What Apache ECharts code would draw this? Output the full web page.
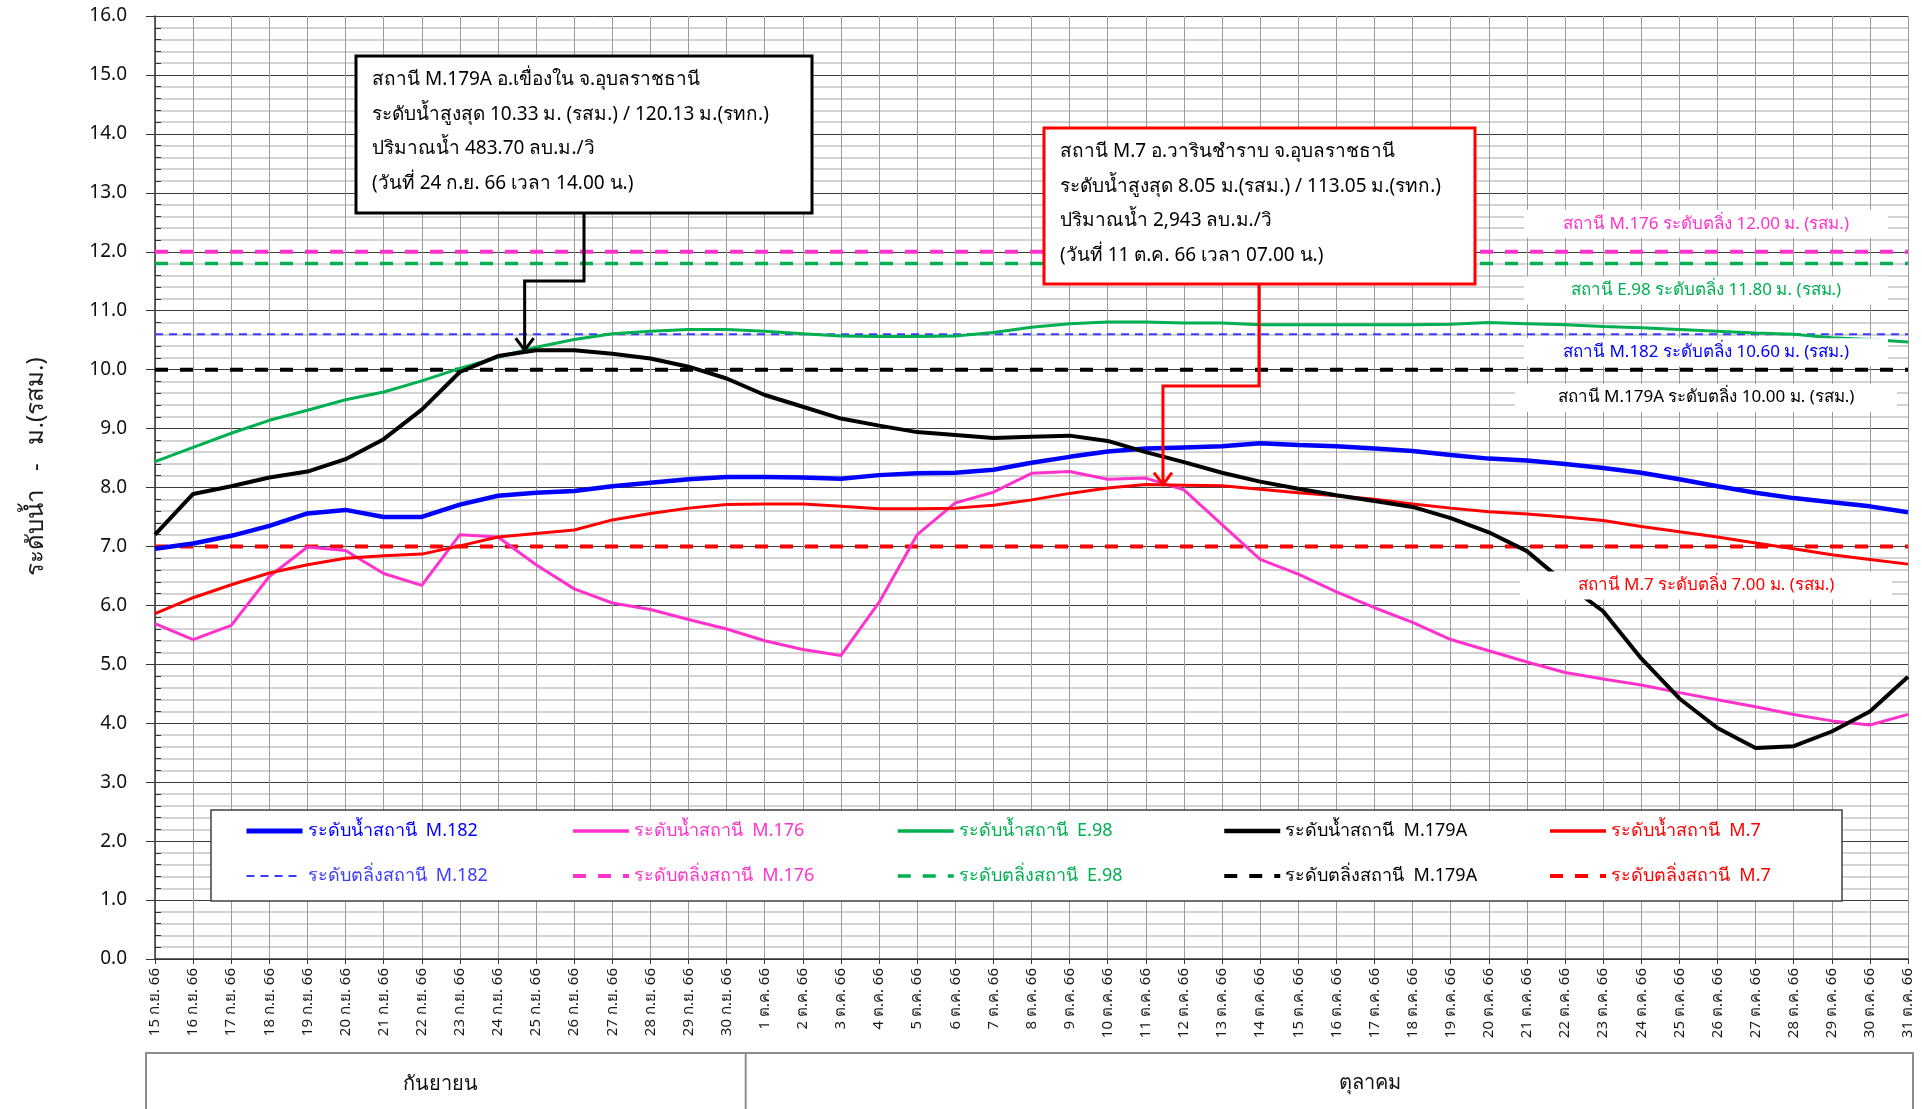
<!DOCTYPE html>
<html>
<head>
<meta charset="utf-8">
<title>ระดับน้ำแม่น้ำมูล</title>
<script src="https://cdn.jsdelivr.net/npm/echarts@6.0.0/dist/echarts.min.js"></script>
<style>
  html, body { margin: 0; padding: 0; background: #ffffff; }
  #chart { width: 1922px; height: 1109px; }
</style>
</head>
<body>
<div id="chart"></div>
<script>
// Daily categories, 15 Sep 2023 (2566) to 31 Oct 2023
const dateLabels = [
  '15 ก.ย. 66', '16 ก.ย. 66', '17 ก.ย. 66', '18 ก.ย. 66', '19 ก.ย. 66', '20 ก.ย. 66',
  '21 ก.ย. 66', '22 ก.ย. 66', '23 ก.ย. 66', '24 ก.ย. 66', '25 ก.ย. 66', '26 ก.ย. 66',
  '27 ก.ย. 66', '28 ก.ย. 66', '29 ก.ย. 66', '30 ก.ย. 66',
  '1 ต.ค. 66', '2 ต.ค. 66', '3 ต.ค. 66', '4 ต.ค. 66', '5 ต.ค. 66', '6 ต.ค. 66',
  '7 ต.ค. 66', '8 ต.ค. 66', '9 ต.ค. 66', '10 ต.ค. 66', '11 ต.ค. 66', '12 ต.ค. 66',
  '13 ต.ค. 66', '14 ต.ค. 66', '15 ต.ค. 66', '16 ต.ค. 66', '17 ต.ค. 66', '18 ต.ค. 66',
  '19 ต.ค. 66', '20 ต.ค. 66', '21 ต.ค. 66', '22 ต.ค. 66', '23 ต.ค. 66', '24 ต.ค. 66',
  '25 ต.ค. 66', '26 ต.ค. 66', '27 ต.ค. 66', '28 ต.ค. 66', '29 ต.ค. 66', '30 ต.ค. 66',
  '31 ต.ค. 66'
];

// Water levels, m. (รสม.)
const levelM182 = [
  6.96, 7.05, 7.18, 7.35, 7.56, 7.62, 7.50, 7.50, 7.71, 7.86, 7.91, 7.94, 8.02, 8.08, 8.14, 8.18,
  8.18, 8.17, 8.15, 8.21, 8.24, 8.25, 8.30, 8.42, 8.52, 8.61, 8.66, 8.68, 8.70, 8.75, 8.72,
  8.70, 8.66, 8.62, 8.55, 8.49, 8.46, 8.40, 8.33, 8.25, 8.14, 8.02, 7.91, 7.82, 7.75, 7.68, 7.58
];
const levelM176 = [
  5.69, 5.42, 5.66, 6.49, 6.99, 6.93, 6.54, 6.34, 7.20, 7.16, 6.69, 6.28, 6.04, 5.93, 5.76, 5.60,
  5.40, 5.25, 5.15, 6.05, 7.20, 7.74, 7.92, 8.24, 8.27, 8.14, 8.16, 7.96, 7.37, 6.78, 6.53,
  6.23, 5.96, 5.71, 5.42, 5.23, 5.04, 4.86, 4.75, 4.65, 4.52, 4.40, 4.28, 4.15, 4.04, 3.97, 4.15
];
const levelE98 = [
  8.44, 8.68, 8.92, 9.14, 9.31, 9.49, 9.62, 9.81, 10.02, 10.21, 10.38, 10.51, 10.61, 10.65, 10.68, 10.68,
  10.65, 10.61, 10.57, 10.56, 10.56, 10.57, 10.63, 10.72, 10.78, 10.81, 10.81, 10.79, 10.79, 10.76, 10.76,
  10.76, 10.76, 10.76, 10.77, 10.80, 10.78, 10.76, 10.73, 10.71, 10.68, 10.65, 10.62, 10.60, 10.54, 10.51, 10.47
];
const levelM179A = [
  7.20, 7.89, 8.02, 8.17, 8.27, 8.48, 8.82, 9.32, 9.96, 10.23, 10.33, 10.33, 10.27, 10.19, 10.05, 9.85,
  9.57, 9.37, 9.17, 9.05, 8.94, 8.89, 8.84, 8.86, 8.88, 8.79, 8.60, 8.43, 8.25, 8.10, 7.98,
  7.87, 7.77, 7.67, 7.48, 7.24, 6.92, 6.38, 5.90, 5.10, 4.42, 3.92, 3.58, 3.61, 3.86, 4.20, 4.79
];
const levelM7 = [
  5.86, 6.13, 6.35, 6.55, 6.69, 6.80, 6.84, 6.87, 7.01, 7.16, 7.22, 7.28, 7.45, 7.56, 7.65, 7.71,
  7.72, 7.72, 7.68, 7.64, 7.64, 7.65, 7.70, 7.79, 7.90, 7.99, 8.05, 8.04, 8.03, 7.97, 7.91,
  7.86, 7.80, 7.72, 7.65, 7.59, 7.55, 7.50, 7.44, 7.34, 7.25, 7.16, 7.06, 6.96, 6.86, 6.78, 6.70
];

// Bank-full levels, m. (รสม.)
const bankM182 = 10.60;
const bankM176 = 12.00;
const bankE98 = 11.80;
const bankM179A = 10.00;
const bankM7 = 7.00;

// Peak readings called out in the two boxes
const peakM179A = { index: 9.7, level: 10.33 };
const peakM7 = { index: 26.45, level: 8.05 };

// Y axis ticks
const yMin = 0;
const yMax = 16;
const yStep = 1;

const FONT = 'Tahoma, "Noto Sans", "DejaVu Sans", sans-serif';

const C_BLUE = '#0000ff';
const C_BLUE_BANK = '#3b3bff';
const C_PINK = '#ff33cc';
const C_GREEN = '#00b050';
const C_BLACK = '#000000';
const C_RED = '#ff0000';

const stations = [
  { code: 'M.182',  levels: levelM182,  bank: bankM182,  color: C_BLUE,  bankColor: C_BLUE_BANK, width: 4.5, bankWidth: 1.8, dash: [8, 6],  z: 8 },
  { code: 'M.176',  levels: levelM176,  bank: bankM176,  color: C_PINK,  bankColor: C_PINK,  width: 3,   bankWidth: 4,   dash: [13, 12], z: 5 },
  { code: 'E.98',   levels: levelE98,   bank: bankE98,   color: C_GREEN, bankColor: C_GREEN, width: 3,   bankWidth: 3.5, dash: [13, 12], z: 4 },
  { code: 'M.179A', levels: levelM179A, bank: bankM179A, color: C_BLACK, bankColor: C_BLACK, width: 4,   bankWidth: 4,   dash: [13, 12], z: 9 },
  { code: 'M.7',    levels: levelM7,    bank: bankM7,    color: C_RED,   bankColor: C_RED,   width: 3,   bankWidth: 4,   dash: [13, 12], z: 6 }
];

const levelName = s => 'ระดับน้ำสถานี  ' + s.code;
const bankName = s => 'ระดับตลิ่งสถานี  ' + s.code;

const series = [];
stations.forEach(s => {
  series.push({
    name: bankName(s),
    type: 'line',
    data: dateLabels.map(() => s.bank),
    symbol: 'none',
    silent: true,
    z: 3,
    lineStyle: { color: s.bankColor, width: s.bankWidth, type: s.dash },
    itemStyle: { color: s.bankColor }
  });
});
stations.forEach(s => {
  series.push({
    name: levelName(s),
    type: 'line',
    data: s.levels,
    symbol: 'none',
    silent: true,
    z: s.z,
    lineStyle: { color: s.color, width: s.width },
    itemStyle: { color: s.color }
  });
});

// One two-row legend column per station (line swatch only)
const legendLeft = [244, 571, 896, 1222, 1548];
const legends = stations.map((s, i) => ({
  orient: 'vertical',
  left: legendLeft[i],
  top: 821,
  padding: 0,
  itemGap: 25,
  itemWidth: 56,
  itemHeight: 20,
  selectedMode: false,
  z: 6,
  itemStyle: { opacity: 0 },
  textStyle: { fontSize: 18, fontFamily: FONT, lineHeight: 20 },
  data: [
    { name: levelName(s), textStyle: { color: s.color },
      lineStyle: { width: s.width + 0.5, color: s.color, type: 'solid' } },
    { name: bankName(s), textStyle: { color: s.bankColor },
      lineStyle: { width: s.bankWidth, color: s.bankColor, type: s.dash } }
  ]
}));

const chart = echarts.init(document.getElementById('chart'), null, { renderer: 'canvas' });

chart.setOption({
  animation: false,
  backgroundColor: '#ffffff',
  textStyle: { fontFamily: FONT },
  grid: { left: 155, right: 14, top: 16, bottom: 150, containLabel: false },
  legend: legends,
  xAxis: {
    type: 'category',
    boundaryGap: false,
    data: dateLabels,
    axisLine: { lineStyle: { color: '#333333', width: 1.5 } },
    axisTick: { show: true, interval: 0, length: 5, lineStyle: { color: '#333333' } },
    axisLabel: { interval: 0, rotate: 90, fontSize: 15, color: '#1a1a1a', margin: 9, fontFamily: FONT },
    splitLine: { show: true, interval: 0, lineStyle: { color: '#9c9c9c', width: 1 } }
  },
  yAxis: [
    {
      type: 'value',
      min: yMin,
      max: yMax,
      interval: yStep,
      position: 'left',
      name: 'ระดับน้ำ   -   ม.(รสม.)',
      nameLocation: 'middle',
      nameGap: 107,
      nameTextStyle: { fontSize: 24, color: '#1a1a1a', fontFamily: FONT, padding: [0, 0, 0, 42] },
      axisLine: { show: true, lineStyle: { color: '#333333', width: 1.5 } },
      axisTick: { show: true, length: 9, lineStyle: { color: '#333333' } },
      axisLabel: { formatter: v => v.toFixed(1), fontSize: 19, color: '#111111', margin: 28, fontFamily: FONT },
      splitLine: { show: true, lineStyle: { color: '#3c3c3c', width: 1 } },
      minorTick: { show: false, splitNumber: 5 },
      minorSplitLine: { show: true, lineStyle: { color: '#d3d3d3', width: 2 } }
    },
    {
      // inward minor ticks along the left axis
      type: 'value',
      min: yMin,
      max: yMax,
      interval: yStep,
      position: 'left',
      offset: 0,
      axisLine: { show: false },
      axisLabel: { show: false },
      axisTick: { show: false, inside: true },
      splitLine: { show: false },
      minorTick: { show: true, splitNumber: 5, length: 6, lineStyle: { color: '#333333', width: 1 } },
      minorSplitLine: { show: false }
    }
  ],
  series: series
});

// Overlay: bank-level captions, peak callouts, legend frame and month band
function px(index, level) {
  const i0 = Math.floor(index);
  const a = chart.convertToPixel({ xAxisIndex: 0, yAxisIndex: 0 }, [i0, level]);
  const b = chart.convertToPixel({ xAxisIndex: 0, yAxisIndex: 0 }, [i0 + 1, level]);
  return [a[0] + (b[0] - a[0]) * (index - i0), a[1]];
}

const graphics = [];
function add(el, z, z2) {
  el.z = z;
  el.z2 = z2 || 0;
  graphics.push(el);
}
function textEl(str, x, y, color, size, align) {
  return {
    type: 'text',
    style: {
      text: str, x: x, y: y, fill: color,
      font: size + 'px ' + FONT,
      align: align || 'left', textAlign: align || 'left',
      verticalAlign: 'middle', textVerticalAlign: 'middle'
    }
  };
}

const bankCaptions = [
  { text: 'สถานี M.176 ระดับตลิ่ง ' + bankM176.toFixed(2) + ' ม. (รสม.)', level: bankM176, color: C_PINK, dy: -28, w: 364 },
  { text: 'สถานี E.98 ระดับตลิ่ง ' + bankE98.toFixed(2) + ' ม. (รสม.)', level: bankE98, color: C_GREEN, dy: 27, w: 364 },
  { text: 'สถานี M.182 ระดับตลิ่ง ' + bankM182.toFixed(2) + ' ม. (รสม.)', level: bankM182, color: C_BLUE, dy: 18, w: 364 },
  { text: 'สถานี M.179A ระดับตลิ่ง ' + bankM179A.toFixed(2) + ' ม. (รสม.)', level: bankM179A, color: C_BLACK, dy: 28, w: 382 },
  { text: 'สถานี M.7 ระดับตลิ่ง ' + bankM7.toFixed(2) + ' ม. (รสม.)', level: bankM7, color: C_RED, dy: 39, w: 372 }
];

const captionX = 1706;
bankCaptions.forEach(c => {
  const y = px(0, c.level)[1] + c.dy;
  add({ type: 'rect', shape: { x: captionX - c.w / 2, y: y - 14, width: c.w, height: 28 }, style: { fill: '#ffffff' } }, 40, 0);
  add(textEl(c.text, captionX, y, c.color, 17, 'center'), 40, 1);
});

function callout(box, lines, elbowY, tip, color) {
  const midX = box.x + box.anchor;
  add({ type: 'polyline', shape: { points: [[midX, box.y + box.h], [midX, elbowY], [tip[0], elbowY], [tip[0], tip[1] - 1]] },
        style: { stroke: color, lineWidth: 3, fill: null } }, 50, 0);
  add({ type: 'polyline', shape: { points: [[tip[0] - 9, tip[1] - 12], [tip[0], tip[1]], [tip[0] + 9, tip[1] - 12]] },
        style: { stroke: color, lineWidth: 3, fill: null } }, 50, 0);
  add({ type: 'rect', shape: { x: box.x, y: box.y, width: box.w, height: box.h },
        style: { fill: '#ffffff', stroke: color, lineWidth: 3 } }, 50, 1);
  lines.forEach((ln, k) => {
    add(textEl(ln, box.x + 16, box.y + 24 + k * 34.5, '#000000', 19, 'left'), 50, 2);
  });
}

callout(
  { x: 356, y: 56, w: 456, h: 157, anchor: 228 },
  [
    'สถานี M.179A อ.เขื่องใน จ.อุบลราชธานี',
    'ระดับน้ำสูงสุด ' + peakM179A.level.toFixed(2) + ' ม. (รสม.) / 120.13 ม.(รทก.)',
    'ปริมาณน้ำ 483.70 ลบ.ม./วิ',
    '(วันที่ 24 ก.ย. 66 เวลา 14.00 น.)'
  ],
  281, px(peakM179A.index, peakM179A.level), C_BLACK
);
callout(
  { x: 1044, y: 128, w: 431, h: 156, anchor: 215 },
  [
    'สถานี M.7 อ.วารินชำราบ จ.อุบลราชธานี',
    'ระดับน้ำสูงสุด ' + peakM7.level.toFixed(2) + ' ม.(รสม.) / 113.05 ม.(รทก.)',
    'ปริมาณน้ำ 2,943 ลบ.ม./วิ',
    '(วันที่ 11 ต.ค. 66 เวลา 07.00 น.)'
  ],
  386, px(peakM7.index, peakM7.level), C_RED
);

// Legend frame
add({ type: 'rect', shape: { x: 211, y: 810, width: 1631, height: 91 },
      style: { fill: '#ffffff', stroke: '#404040', lineWidth: 1.5 } }, 3, 0);

// Month band below the date labels
const monthSplitX = px(15.5, 0)[0];
const bandTop = 1053;
add({ type: 'rect', shape: { x: 146, y: bandTop, width: 1767, height: 80 }, style: { fill: null, stroke: '#8c8c8c', lineWidth: 2 } }, 3, 0);
add({ type: 'line', shape: { x1: monthSplitX, y1: bandTop, x2: monthSplitX, y2: 1109 }, style: { stroke: '#8c8c8c', lineWidth: 2 } }, 3, 0);
add(textEl('กันยายน', 440, 1084, '#111111', 20, 'center'), 3, 1);
add(textEl('ตุลาคม', 1370, 1083, '#111111', 20, 'center'), 3, 1);

chart.setOption({ graphic: { elements: graphics } });
</script>
</body>
</html>
